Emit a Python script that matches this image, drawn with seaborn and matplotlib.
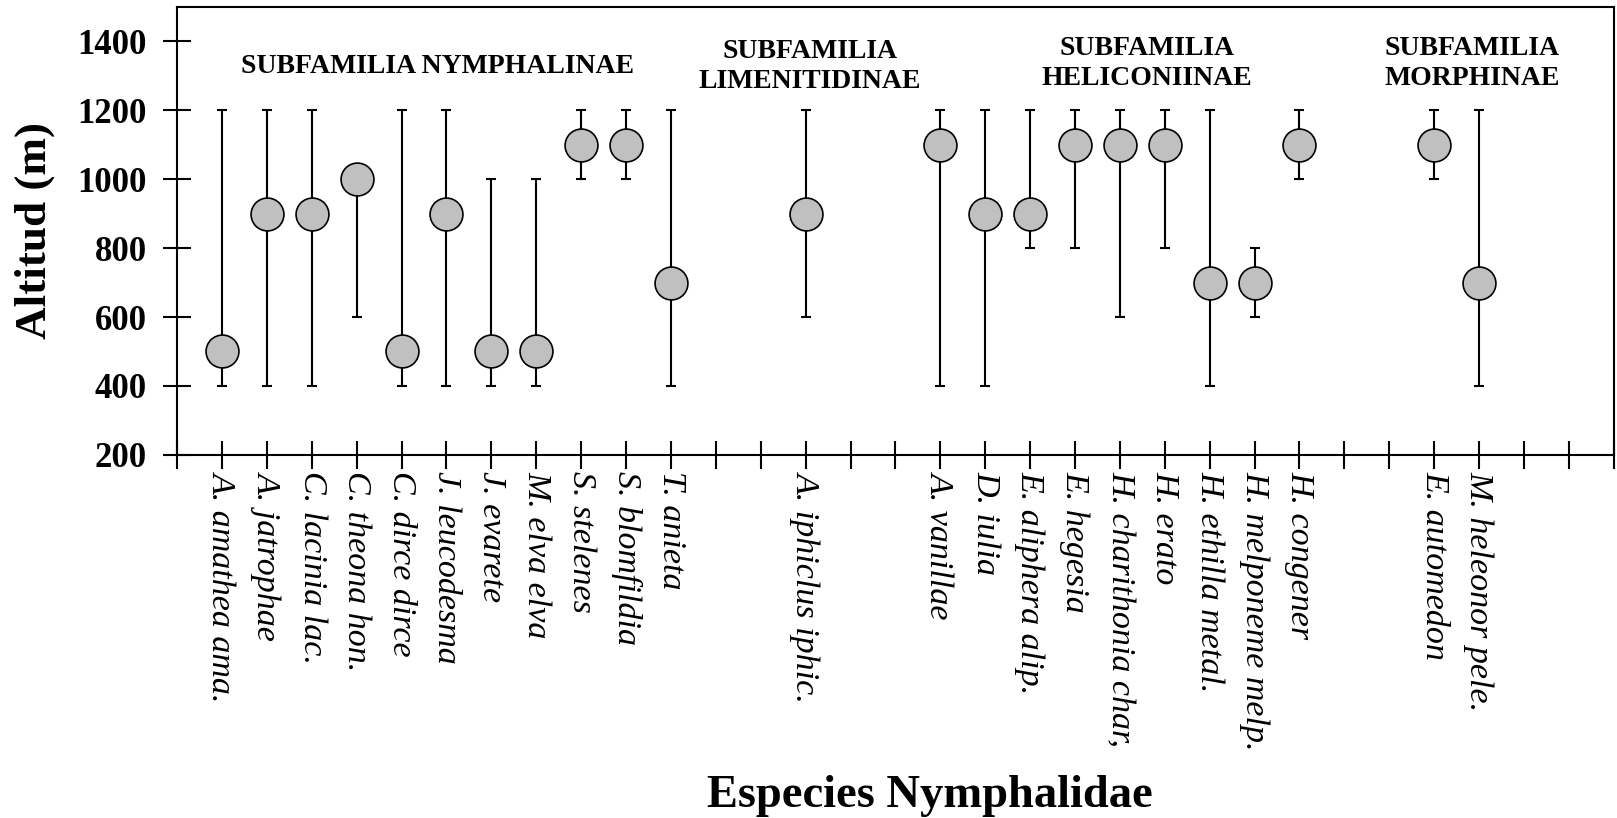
import numpy as np
import matplotlib
matplotlib.use("Agg")
import matplotlib.pyplot as plt
import seaborn as sns

especies = ['A. amathea ama.', 'A. jatrophae', 'C. lacinia lac.', 'C. theona hon.',
            'C. dirce dirce', 'J. leucodesma', 'J. evarete', 'M. elva elva',
            'S. stelenes', 'S. blomfildia', 'T. anieta', 'A. iphiclus iphic.',
            'A. vanillae', 'D. iulia', 'E. aliphera alip.', 'E. hegesia',
            'H. charithonia char,', 'H. erato', 'H. ethilla metal.',
            'H. melponeme melp.', 'H. congener', 'E. automedon', 'M. heleonor pele.']
posicion = [1, 2, 3, 4, 5, 6, 7, 8, 9, 10, 11, 14, 17, 18, 19, 20, 21, 22, 23, 24, 25, 28, 29]
altitud_media = [500, 900, 900, 1000, 500, 900, 500, 500, 1100, 1100, 700, 900,
                 1100, 900, 900, 1100, 1100, 1100, 700, 700, 1100, 1100, 700]
altitud_min = [400, 400, 400, 600, 400, 400, 400, 400, 1000, 1000, 400, 600,
               400, 400, 800, 800, 600, 800, 400, 600, 1000, 1000, 400]
altitud_max = [1200, 1200, 1200, 1000, 1200, 1200, 1000, 1000, 1200, 1200, 1200, 1200,
               1200, 1200, 1200, 1200, 1200, 1200, 1200, 800, 1200, 1200, 1200]

subfamilias = ['SUBFAMILIA NYMPHALINAE', 'SUBFAMILIA\nLIMENITIDINAE',
               'SUBFAMILIA\nHELICONIINAE', 'SUBFAMILIA\nMORPHINAE']
subfam_x = [5.8, 14.1, 21.6, 28.85]
subfam_y = [1328, 1328, 1337, 1337]

sns.set_style("ticks")
plt.rcParams['font.family'] = ['Liberation Serif', 'DejaVu Serif']
plt.rcParams['text.color'] = 'black'
plt.rcParams['axes.labelcolor'] = 'black'
plt.rcParams['xtick.color'] = 'black'
plt.rcParams['ytick.color'] = 'black'

fig, ax = plt.subplots(figsize=(16.17, 8.18), dpi=100)
fig.subplots_adjust(left=0.1095, right=0.998, top=0.9914, bottom=0.444)

media = np.array(altitud_media)
err = [media - np.array(altitud_min), np.array(altitud_max) - media]
ax.errorbar(posicion, media, yerr=err, fmt='none', ecolor='black',
            elinewidth=1.5, capsize=3.5, capthick=1.5, zorder=2)
sns.scatterplot(x=posicion, y=altitud_media, s=560, color='#c0c0c0',
                edgecolor='black', linewidth=1.2, zorder=3, ax=ax, legend=False)

for txt, x, y in zip(subfamilias, subfam_x, subfam_y):
    ax.text(x, y, txt, ha='center', va='center', fontsize=20,
            fontweight='bold', linespacing=1.25, color='black')

ax.set_xlim(0, 32)
ax.set_ylim(200, 1500)
ax.set_yticks(range(200, 1401, 200))
ax.set_xticks(range(0, 33))
etiquetas = [''] * 33
for p, e in zip(posicion, especies):
    etiquetas[p] = e
ax.set_xticklabels(etiquetas, rotation=270, fontsize=24.5, fontstyle='italic',
                   va='top', ha='center')
for lab in ax.get_yticklabels():
    lab.set_fontweight('bold')
    lab.set_fontsize(25)

ax.tick_params(axis='both', direction='inout', length=20, width=1.5)
ax.tick_params(axis='x', pad=2)
ax.tick_params(axis='y', pad=12)
for s in ax.spines.values():
    s.set_linewidth(1.5)
    s.set_color('black')

ax.set_ylabel('Altitud (m)', fontsize=32.5, fontweight='bold')
ax.set_xlabel('Especies Nymphalidae', fontsize=33.5, fontweight='bold')
ax.xaxis.set_label_coords(0.524, -0.715)
ax.yaxis.set_label_coords(-0.085, 0.5)

fig.savefig('out.png', dpi=100, facecolor='white')
